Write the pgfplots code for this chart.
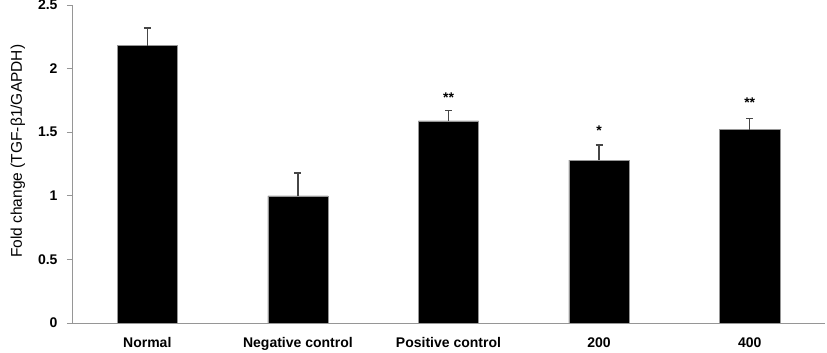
\documentclass[border=0pt]{standalone}
\usepackage{pgfplots}
\pgfplotsset{compat=1.18}
\usepackage{fontspec}
\setmainfont{Liberation Sans}
\definecolor{axgray}{RGB}{150,150,150}
\definecolor{errgray}{RGB}{70,70,70}
\begin{document}
\begin{tikzpicture}
\begin{axis}[
  name=ax,
  scale only axis,
  width=753pt, height=318pt,
  xmin=-0.5, xmax=4.5,
  ymin=0, ymax=2.5,
  axis x line*=bottom, axis y line*=left,
  axis line style={axgray, line width=0.8pt},
  ytick={0,0.5,1,1.5,2,2.5},
  yticklabel style={font=\fontsize{14}{16}\selectfont\bfseries, /pgf/number format/assume math mode=true, xshift=-6pt},
  y tick style={axgray, line width=0.8pt},
  tick align=outside,
  major tick length=5pt,
  xtick={0,1,2,3,4},
  xticklabels={Normal, Negative control, Positive control, \raisebox{-5pt}{200}, \raisebox{-5pt}{400}},
  xticklabel style={font=\fontsize{14}{16}\selectfont\bfseries, yshift=-6pt},
  x tick style={draw=none},
  extra x ticks={0.5,1.5,2.5,3.5},
  extra x tick labels={},
  extra x tick style={tick style={axgray, line width=0.8pt, draw=axgray}, major tick length=5pt},
  ylabel={Fold change (TGF-β1/GAPDH)},
  ylabel style={font=\fontsize{15.5}{17}\selectfont, at={(ticklabel cs:0.54)}, yshift=6pt},
  /pgf/number format/.cd, fixed, precision=1,
]
\addplot[ybar, bar width=0.4, fill=black, draw=axgray, line width=0.5pt,
  error bars/.cd, y dir=plus, y explicit,
  error bar style={errgray, line width=1.4pt},
  error mark options={rotate=90, mark size=3.5pt, errgray, line width=1.4pt}]
  coordinates {
    (0,2.18) +- (0,0.14)
    (1,1.00) +- (0,0.18)
    (2,1.59) +- (0,0.08)
    (3,1.28) +- (0,0.12)
    (4,1.52) +- (0,0.09)
  };
\node[font=\fontsize{14}{14}\selectfont\bfseries] at (axis cs:2,1.77) {**};
\node[font=\fontsize{14}{14}\selectfont\bfseries] at (axis cs:3,1.51) {*};
\node[font=\fontsize{14}{14}\selectfont\bfseries] at (axis cs:4,1.73) {**};
\end{axis}
\pgfresetboundingbox
\useasboundingbox (-72pt,-30pt) rectangle (755pt,323pt);
\end{tikzpicture}
\end{document}
